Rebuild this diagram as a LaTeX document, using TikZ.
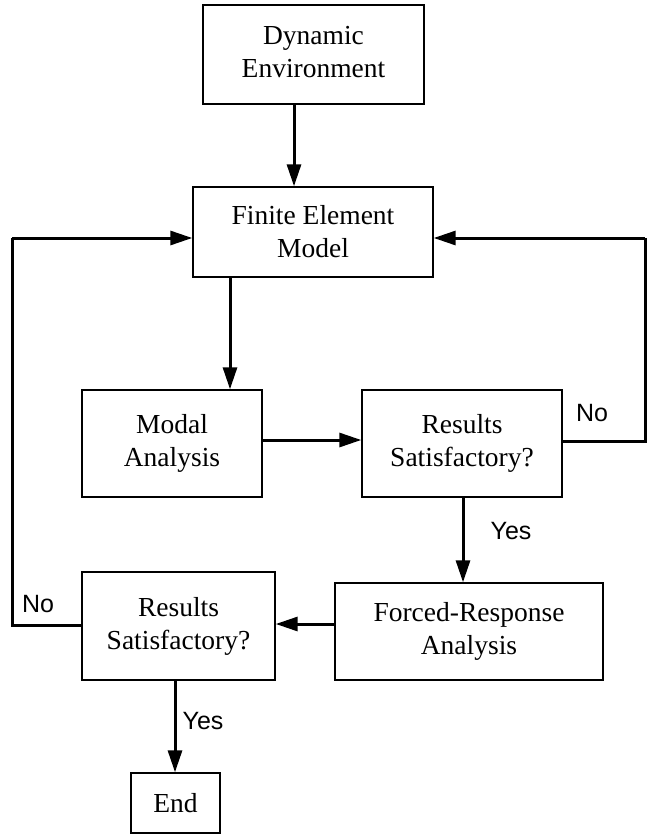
\documentclass[tikz,border=0pt]{standalone}
\usepackage{fontspec}
\setmainfont{Liberation Serif}
\newfontfamily\labfont{Liberation Sans}
\usetikzlibrary{arrows.meta}

\begin{document}
\begin{tikzpicture}[x=1pt,y=-1pt,
  box/.style={draw,line width=1.4pt,rectangle,align=center,inner sep=0pt,
    font=\fontsize{27.5}{33}\selectfont},
  arr/.style={line width=3pt,-{Triangle[length=22pt,width=14pt]}},
  link/.style={line width=3pt},
  lab/.style={font=\labfont\fontsize{25}{28}\selectfont,inner sep=0pt}]
\useasboundingbox (0,0) rectangle (647,837);

% process boxes
\node[box,minimum width=221pt,minimum height=99pt] (dyn) at (313.5,54.5) {\raisebox{5pt}{\begin{tabular}{@{}c@{}}Dynamic\\Environment\end{tabular}}};
\node[box,minimum width=240pt,minimum height=90pt] (fem) at (313,232) {Finite Element\\Model};
\node[box,minimum width=180pt,minimum height=107pt] (modal) at (172,443.5) {\raisebox{8pt}{\begin{tabular}{@{}c@{}}Modal\\Analysis\end{tabular}}};
\node[box,minimum width=200pt,minimum height=107pt] (res1) at (462,443.5) {Results\\Satisfactory?};
\node[box,minimum width=268pt,minimum height=97pt] (forced) at (469,631.5) {Forced-Response\\Analysis};
\node[box,minimum width=193pt,minimum height=108pt] (res2) at (178.5,626) {Results\\Satisfactory?};
\node[box,minimum width=89pt,minimum height=60pt] (end) at (175.5,803) {End};

% guide coordinates for the connector routes
\coordinate (xa) at (294,0);
\coordinate (xb) at (230,0);
\coordinate (xc) at (463,0);
\coordinate (xd) at (175,0);
\coordinate (ya) at (0,440);
\coordinate (yb) at (0,624);
\coordinate (yfb) at (0,238);
\coordinate (rtop) at (645,238);
\coordinate (rbot) at (645,441);
\coordinate (ltop) at (12,238);
\coordinate (lbot) at (12,625);

% forward flow
\draw[arr] (xa |- dyn.south) -- (xa |- fem.north);
\draw[arr] (xb |- fem.south) -- (xb |- modal.north);
\draw[arr] (modal.east |- ya) -- (res1.west |- ya);
\draw[arr] (xc |- res1.south) -- (xc |- forced.north);
\draw[arr] (forced.west |- yb) -- (res2.east |- yb);
\draw[arr] (xd |- res2.south) -- (xd |- end.north);

% feedback loops
\draw[link] (res1.east |- rbot) -- (rbot) -- (rtop);
\draw[arr] (rtop) -- (fem.east |- yfb);
\draw[link] (res2.west |- lbot) -- (lbot) -- (ltop);
\draw[arr] (ltop) -- (fem.west |- yfb);

% branch labels
\node[lab] (no1) at (592,413) {No};
\node[lab] (yes1) at (511,531) {Yes};
\node[lab] (no2) at (38,604) {No};
\node[lab] (yes2) at (203,721) {Yes};
\end{tikzpicture}
\end{document}
